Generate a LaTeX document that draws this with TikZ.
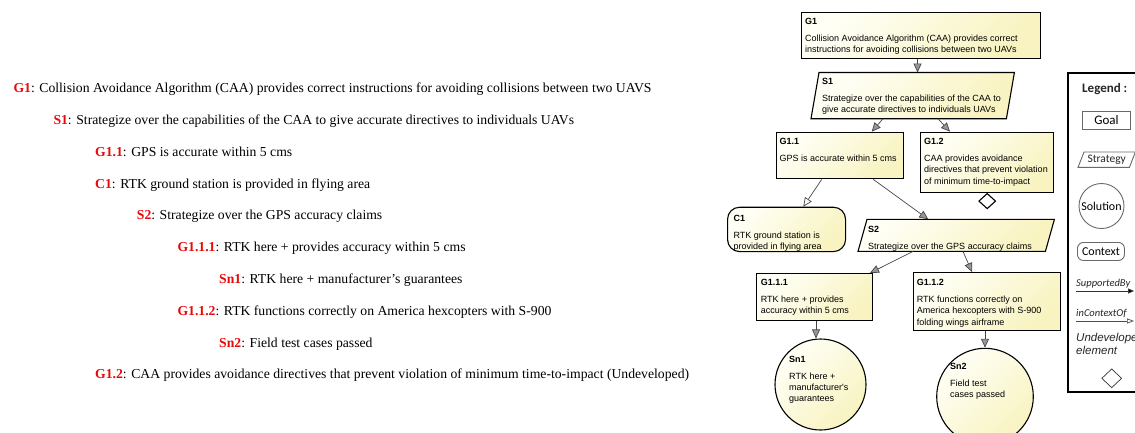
\documentclass[tikz,border=0pt]{standalone}
\usepackage{fontspec}
\setmainfont{Liberation Serif}
\newfontfamily\arialfont{Liberation Sans}
\newfontfamily\calfont{Carlito}
\usetikzlibrary{arrows.meta,calc,shapes.geometric}

\definecolor{boxlight}{RGB}{255,255,246}
\definecolor{boxdark}{RGB}{248,243,192}
\definecolor{linkgray}{RGB}{70,70,70}
\definecolor{headgray}{RGB}{150,150,150}
\definecolor{labelred}{RGB}{232,10,10}
\definecolor{legendgray}{RGB}{105,105,105}

% title + body text of a GSN element, first baseline = node baseline
\newcommand\gsnlabel[2]{\begin{tabular}[t]{@{}l@{}}\textbf{#1}\\[5.2pt]#2\end{tabular}}
% one line of the textual outline
\newcommand\outline[2]{\textcolor{labelred}{\textbf{#1}}: #2}

\tikzset{
  gsnfill/.style={top color=boxlight, bottom color=boxdark, shading angle=45},
  goalbox/.style={draw=black, line width=1.1pt, gsnfill, inner sep=0pt, anchor=north west},
  ctxbox/.style={goalbox, rounded corners=12pt},
  solbox/.style={circle, draw=black, line width=1.1pt, gsnfill, inner sep=0pt},
  framebox/.style={inner sep=0pt, anchor=north west},
  stratdraw/.style={draw=black, line width=1.1pt, gsnfill},
  gsntext/.style={anchor=base west, inner sep=0pt, font=\arialfont\fontsize{9}{11.3}\selectfont},
  outtext/.style={anchor=base west, inner sep=0pt, font=\fontsize{13.7}{16}\selectfont},
  sup/.style={draw=linkgray, line width=0.7pt, -{Triangle[length=9pt,width=8pt,fill=headgray]}},
  ctx/.style={draw=linkgray, line width=0.7pt, -{Triangle[length=9pt,width=8pt,fill=white]}},
  undev/.style={diamond, draw=black, line width=1.1pt, fill=white, inner sep=0pt, aspect=1.07},
  legtext/.style={inner sep=0pt, text=black!85},
  legshape/.style={draw=legendgray, line width=0.9pt, inner sep=0pt},
}

\begin{document}
\begin{tikzpicture}[x=1pt,y=-1pt]
\useasboundingbox (0,0) rectangle (1135,432);
\clip (0,0) rectangle (1135,432);

% ---------------- textual outline ----------------
\node[outtext] (o1)  at (13.3, 92.8)  {\outline{G1}{Collision Avoidance Algorithm (CAA) provides correct instructions for avoiding collisions between two UAVS}};
\node[outtext] (o2)  at (53.3, 124.6) {\outline{S1}{Strategize over the capabilities of the CAA to give accurate directives to individuals UAVs}};
\node[outtext] (o3)  at (95.0, 156.4) {\outline{G1.1}{GPS is accurate within 5 cms}};
\node[outtext] (o4)  at (95.0, 188.1) {\outline{C1}{RTK ground station is provided in flying area}};
\node[outtext] (o5)  at (136.7,219.9) {\outline{S2}{Strategize over the GPS accuracy claims}};
\node[outtext] (o6)  at (177.3,251.7) {\outline{G1.1.1}{RTK here + provides accuracy within 5 cms}};
\node[outtext] (o7)  at (219.0,283.5) {\outline{Sn1}{RTK here + manufacturer's guarantees}};
\node[outtext] (o8)  at (177.3,315.3) {\outline{G1.1.2}{RTK functions correctly on America hexcopters with S-900}};
\node[outtext] (o9)  at (219.0,347.0) {\outline{Sn2}{Field test cases passed}};
\node[outtext] (o10) at (95.0, 378.8) {\outline{G1.2}{CAA provides avoidance directives that prevent violation of minimum time-to-impact (Undeveloped)}};

% ---------------- GSN diagram ----------------
% goals
\node[goalbox, minimum width=239pt, minimum height=46.6pt] (G1) at (801,11.7) {};
\node[gsntext] (G1t) at (805,24.9) {\gsnlabel{G1}{Collision Avoidance Algorithm (CAA) provides correct\\instructions for avoiding collisions between two UAVs}};

% strategy S1 (parallelogram drawn over its frame)
\node[framebox, minimum width=203pt, minimum height=45.8pt] (S1) at (811,72.5) {};
\path[stratdraw] ([xshift=8pt]S1.north west) -- (S1.north east) -- ([xshift=-8pt]S1.south east) -- (S1.south west) -- cycle;
\node[gsntext] (S1t) at (822,84.9) {\gsnlabel{S1}{Strategize over the capabilities of the CAA to\\give accurate directives to individuals UAVs}};

\node[goalbox, minimum width=127.6pt, minimum height=46.6pt] (G11) at (775.7,131.7) {};
\node[gsntext] (G11t) at (779.3,144.9) {\gsnlabel{G1.1}{GPS is accurate within 5 cms}};

\node[goalbox, minimum width=133.3pt, minimum height=60pt] (G12) at (920,131.7) {};
\node[gsntext] (G12t) at (924,144.9) {\gsnlabel{G1.2}{CAA provides avoidance\\directives that prevent violation\\of minimum time-to-impact}};
\node[undev, minimum width=17pt, minimum height=15.5pt, anchor=north] (U12) at (G12.south) {};

% context C1
\node[ctxbox, minimum width=118pt, minimum height=44.3pt] (C1) at (727,206.7) {};
\node[gsntext] (C1t) at (733.3,221.5) {\gsnlabel{C1}{RTK ground station is\\provided in flying area}};

% strategy S2
\node[framebox, minimum width=196pt, minimum height=31.7pt] (S2) at (858,219.3) {};
\path[stratdraw] ([xshift=9pt]S2.north west) -- (S2.north east) -- ([xshift=-9pt]S2.south east) -- (S2.south west) -- cycle;
\node[gsntext] (S2t) at (868,232.5) {\gsnlabel{S2}{Strategize over the GPS accuracy claims}};

\node[goalbox, minimum width=116pt, minimum height=47pt] (G111) at (756,273) {};
\node[gsntext] (G111t) at (760.7,285.9) {\gsnlabel{G1.1.1}{RTK here + provides\\accuracy within 5 cms}};

\node[goalbox, minimum width=147pt, minimum height=58pt] (G112) at (913,272) {};
\node[gsntext] (G112t) at (916.7,285.9) {\gsnlabel{G1.1.2}{RTK functions correctly on\\America hexcopters with S-900\\folding wings airframe}};

% solutions
\node[solbox, minimum size=91pt] (Sn1) at (820.5,384.5) {};
\node[gsntext] (Sn1t) at (789,362.5) {\gsnlabel{Sn1}{RTK here +\\manufacturer's\\guarantees}};

\node[solbox, minimum size=96.6pt] (Sn2) at (985,396.6) {};
\node[gsntext] (Sn2t) at (950,369.9) {\gsnlabel{Sn2}{Field test\\cases passed}};

% connectors
\draw[sup] ([xshift=-3.5pt]G1.south) -- ([xshift=-3.5pt]G1.south |- S1.north);
\draw[sup] ([xshift=72pt]S1.south west) -- ([xshift=96pt]G11.north west);
\draw[sup] ([xshift=127pt]S1.south west) -- ([xshift=30pt]G12.north west);
\draw[ctx] ([xshift=46pt]G11.south west) -- ([xshift=76.3pt]C1.north west);
\draw[sup] ([xshift=97.6pt]G11.south west) -- ([xshift=70.3pt]S2.north west);
\draw[sup] ([xshift=55pt]S2.south west) -- ([xshift=114pt]G111.north west);
\draw[sup] ([xshift=105pt]S2.south west) -- ([xshift=59pt]G112.north west);
\draw[sup] ([xshift=60pt]G111.south west) -- ([xshift=60pt]G111.south west |- Sn1.north);
\draw[sup] (G112.south -| Sn2.north) -- (Sn2.north);

% ---------------- legend ----------------
\draw[line width=1.6pt] (1068,73) rectangle (1150,391.7);
\node[legtext, anchor=west, font=\calfont\bfseries\fontsize{13}{15}\selectfont] (Lhead) at (1082,89) {Legend :};
\node[legshape, anchor=north west, minimum width=48pt, minimum height=18pt, font=\calfont\fontsize{13}{15}\selectfont] (LGoal) at (1082,111) {Goal};
\node[framebox, minimum width=57pt, minimum height=15pt] (LStrat) at (1078,152) {};
\path[legshape] ([xshift=6pt]LStrat.north west) -- (LStrat.north east) -- ([xshift=-6pt]LStrat.south east) -- (LStrat.south west) -- cycle;
\node[legtext, font=\calfont\fontsize{11.5}{13}\selectfont] (LStratT) at (LStrat.center) {Strategy};
\node[legshape, circle, minimum size=45pt, font=\calfont\fontsize{12}{14}\selectfont] (LSol) at (1101.5,206) {Solution};
\node[legshape, anchor=north west, rounded corners=6pt, minimum width=47pt, minimum height=18pt, font=\calfont\fontsize{12}{14}\selectfont] (LCtx) at (1077,242) {Context};
\node[legtext, anchor=base west, font=\calfont\itshape\fontsize{10.5}{12}\selectfont] (LSup) at (1076,286.5) {SupportedBy};
\coordinate (LSupA) at (1076,291);
\coordinate (LSupB) at (1134,291);
\draw[draw=black!80, line width=0.7pt, -{Triangle[length=6pt,width=5pt,fill=black]}] (LSupA) -- (LSupB);
\node[legtext, anchor=base west, font=\calfont\itshape\fontsize{10.5}{12}\selectfont] (LCon) at (1076,316.5) {inContextOf};
\coordinate (LConA) at (1076,321);
\coordinate (LConB) at (1134,321);
\draw[draw=black!70, line width=0.7pt, -{Triangle[length=7pt,width=5pt,fill=white]}] (LConA) -- (LConB);
\node[legtext, anchor=base west, align=left, font=\arialfont\itshape\fontsize{11.5}{12.7}\selectfont] (LUnd) at (1076,354.2) {Undeveloped\\element};
\node[undev, line width=0.7pt, draw=black!80, minimum width=20pt, minimum height=19pt] (LDia) at (1111.7,378.3) {};
\end{tikzpicture}
\end{document}
